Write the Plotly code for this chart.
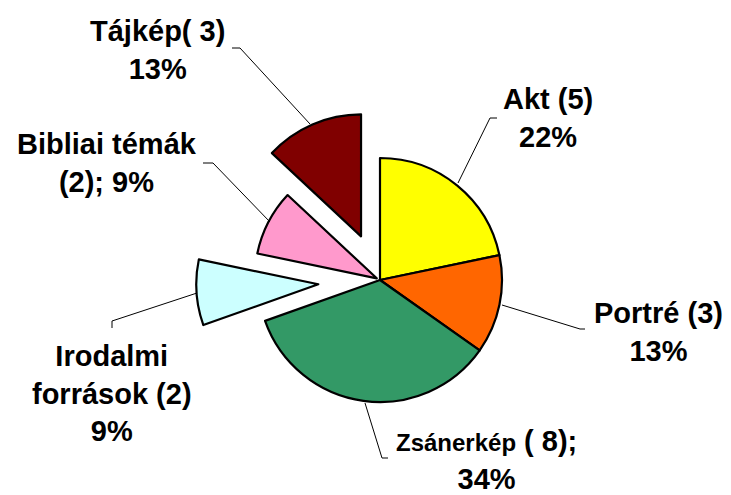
import plotly.graph_objects as go

# ---- data ----
categories = ["Akt", "Portré", "Zsánerkép", "Irodalmi források", "Bibliai témák", "Tájkép"]
counts = [5, 3, 8, 2, 2, 3]
percent_labels = ["22%", "13%", "34%", "9%", "9%", "13%"]
colors = ["#FFFF00", "#FF6600", "#339966", "#CCFFFF", "#FF99CC", "#800000"]
pulls = [0, 0, 0, 0.507, 0.03, 0.39]

W, H = 731, 495

# pie geometry (pixels)
CX, CY, R = 380, 280, 122
half = R * (1 + max(pulls))


def px(x):
    return x / W


def py(y):
    return 1 - y / H


fig = go.Figure(go.Pie(
    labels=categories,
    values=counts,
    sort=False,
    direction="clockwise",
    rotation=0,
    pull=pulls,
    marker=dict(colors=colors, line=dict(color="black", width=2.2)),
    textinfo="none",
    hoverinfo="skip",
    showlegend=False,
    domain=dict(x=[px(CX - half), px(CX + half)], y=[py(CY + half), py(CY - half)]),
))

FONT = dict(family="Liberation Sans, Arial, sans-serif", size=29, color="black")

label_texts = [
    f"<b>{categories[0]} ({counts[0]})<br>{percent_labels[0]}</b>",
    f"<b>{categories[1]} ({counts[1]})<br>{percent_labels[1]}</b>",
    f"<b><span style='font-size:24px'>{categories[2]}</span> ( {counts[2]});<br>{percent_labels[2]}</b>",
    f"<b>Irodalmi<br>források ({counts[3]})<br>{percent_labels[3]}</b>",
    f"<b>{categories[4]}<br>({counts[4]}); {percent_labels[4]}</b>",
    f"<b>{categories[5]}( {counts[5]})<br>{percent_labels[5]}</b>",
]
label_pos = [(548, 118), (658, 332), (486, 460), (112, 393), (107, 163), (157, 50)]

for t, (x, y) in zip(label_texts, label_pos):
    fig.add_annotation(x=px(x), y=py(y), xref="paper", yref="paper", text=t,
                       showarrow=False, xanchor="center", yanchor="middle",
                       align="center", font=FONT)

leaders = [
    [(497, 118), (490, 118), (458, 183)],
    [(502, 305), (580, 329), (585, 329)],
    [(388, 458), (382, 458), (365, 403)],
    [(112, 328), (112, 321), (197, 293)],
    [(203, 163), (213, 163), (270, 222)],
    [(232, 48), (240, 48), (310, 124)],
]
for pts in leaders:
    d = "M " + " L ".join(f"{px(x)} {py(y)}" for x, y in pts)
    fig.add_shape(type="path", path=d, xref="paper", yref="paper",
                  line=dict(color="black", width=1))

fig.update_layout(
    width=W, height=H,
    margin=dict(l=0, r=0, t=0, b=0),
    paper_bgcolor="white", plot_bgcolor="white",
)

fig.write_html("out.html",
               config={"displayModeBar": False},
               post_script="document.body.style.margin='0';document.body.style.overflow='hidden';")
